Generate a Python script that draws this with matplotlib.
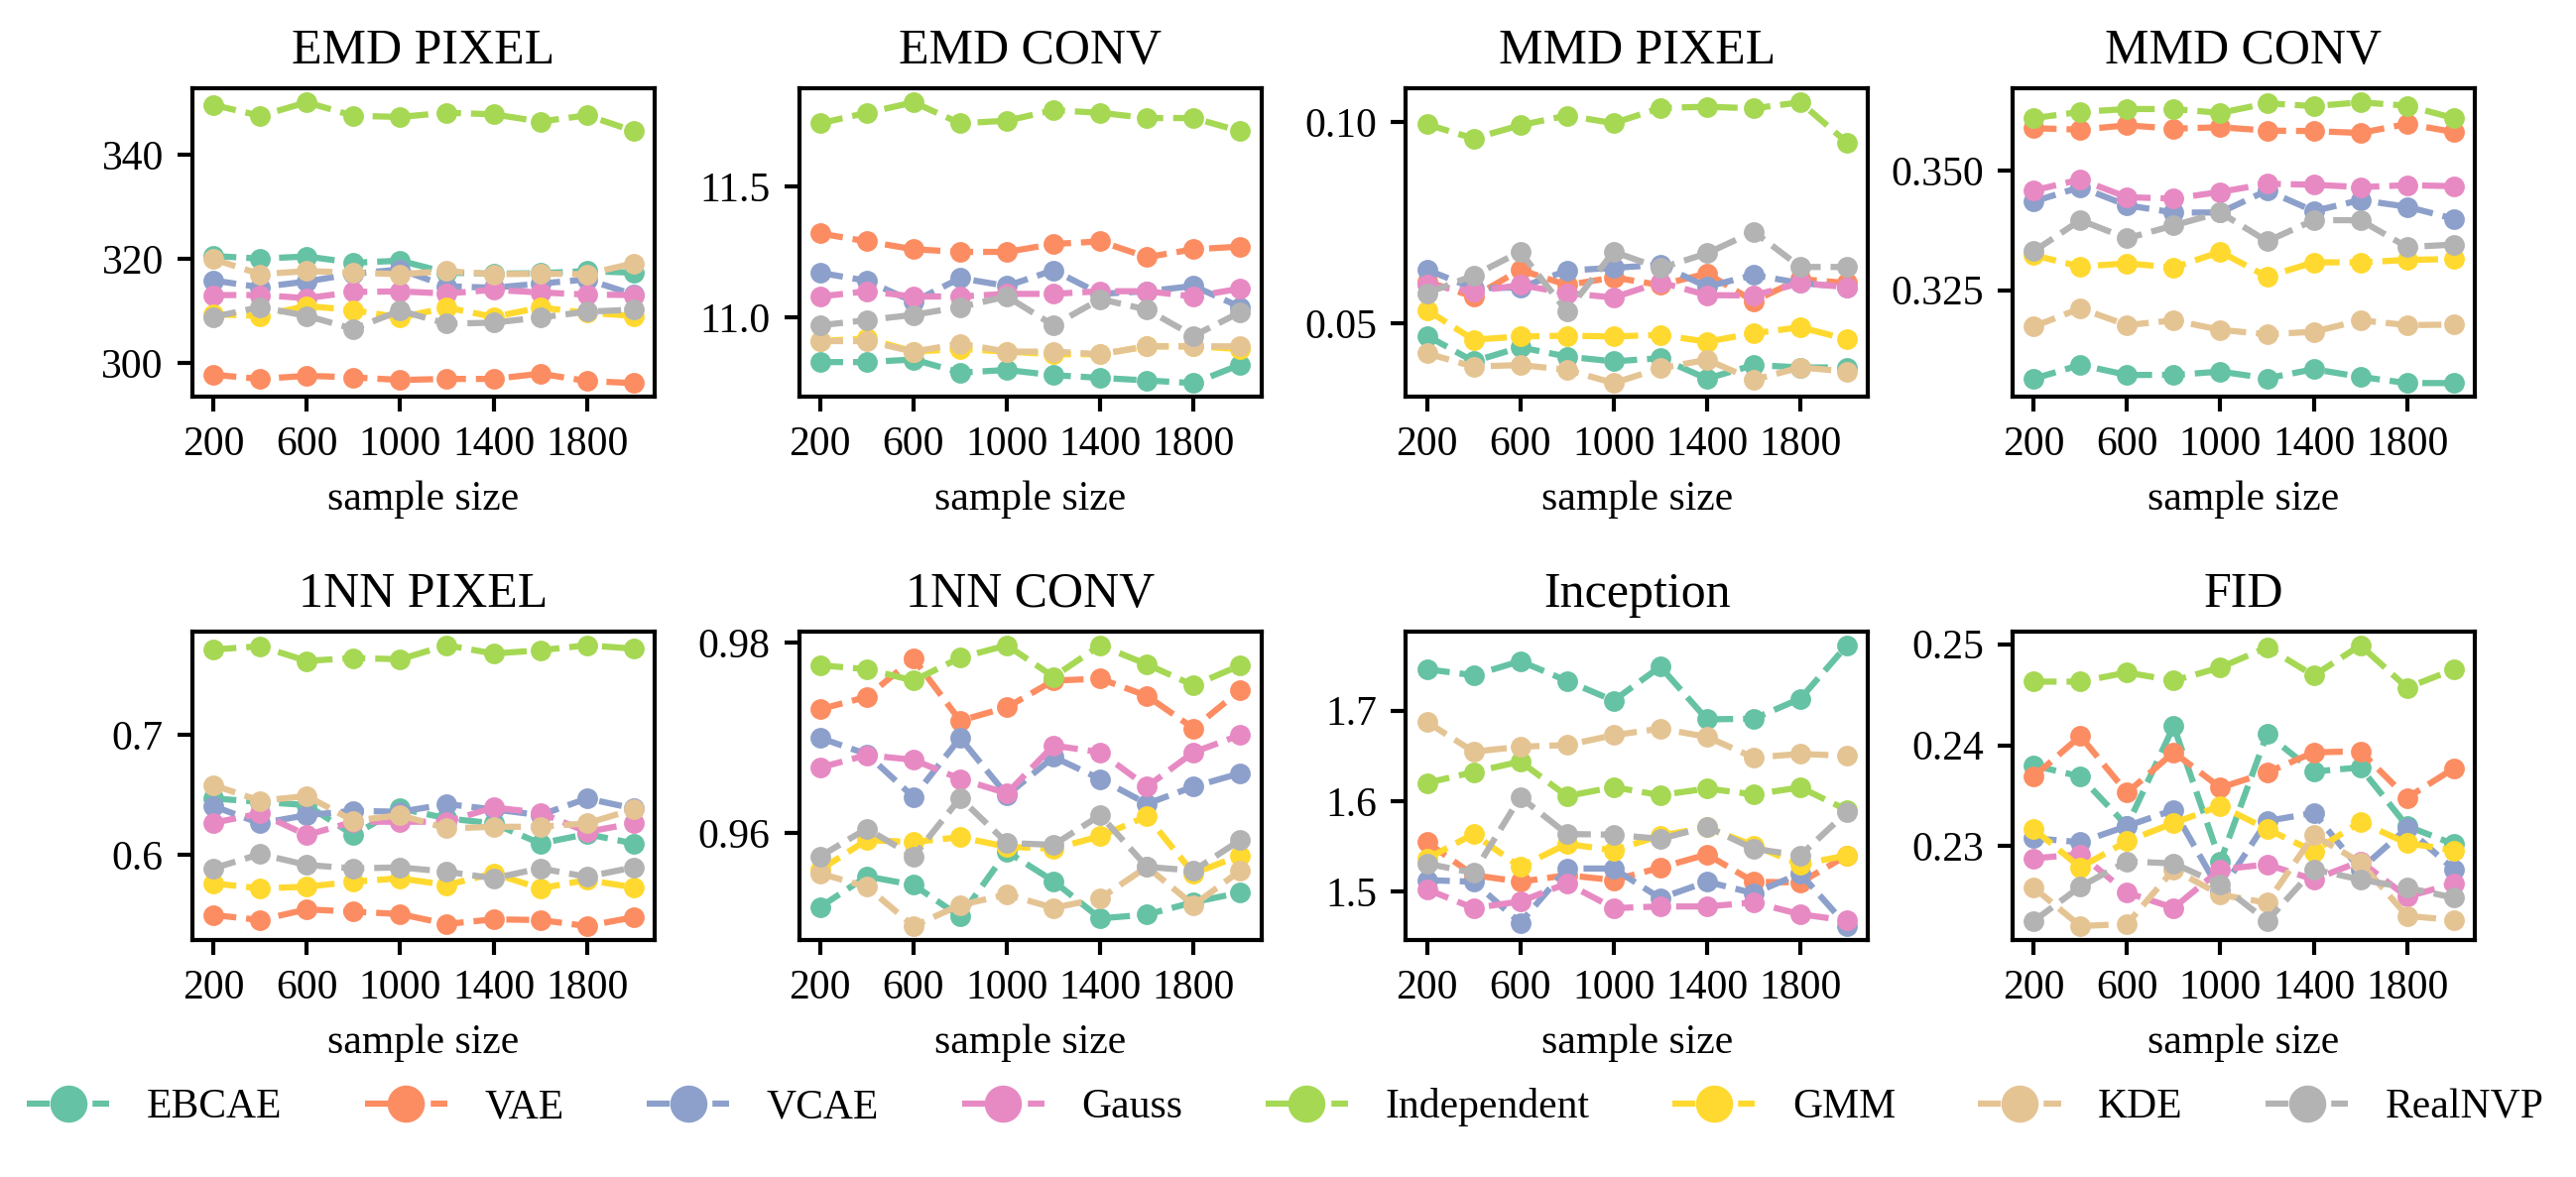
import numpy as np
import matplotlib
matplotlib.use("Agg")
import matplotlib.pyplot as plt

plt.rcParams['font.family'] = 'serif'
plt.rcParams['font.serif'] = ['Liberation Serif', 'DejaVu Serif']
plt.rcParams['font.size'] = 10

# sample sizes
sizes = [200, 400, 600, 800, 1000, 1200, 1400, 1600, 1800, 2000]
xticks = [200, 600, 1000, 1400, 1800]

models = ['EBCAE', 'VAE', 'VCAE', 'Gauss', 'Independent', 'GMM', 'KDE', 'RealNVP']
colors = ['#66c2a5', '#fc8d62', '#8da0cb', '#e78ac3', '#a6d854', '#ffd92f', '#e5c494', '#b3b3b3']

titles = ['EMD PIXEL', 'EMD CONV', 'MMD PIXEL', 'MMD CONV',
          '1NN PIXEL', '1NN CONV', 'Inception', 'FID']
yticks = [[300, 320, 340], [11.0, 11.5], [0.05, 0.10], [0.325, 0.350],
          [0.6, 0.7], [0.96, 0.98], [1.5, 1.6, 1.7], [0.23, 0.24, 0.25]]
yfmt = ['%d', '%.1f', '%.2f', '%.3f', '%.1f', '%.2f', '%.1f', '%.2f']

# values, one list per model in order of `models`
emd_pixel = [
    [320.6, 320.1, 320.5, 319.3, 319.7, 317.4, 317.2, 317.3, 317.7, 317.4],
    [297.8, 297.0, 297.6, 297.3, 296.8, 297.0, 297.0, 298.0, 296.6, 296.2],
    [315.9, 314.6, 315.7, 317.2, 318.0, 314.8, 314.5, 315.3, 316.1, 313.2],
    [313.1, 313.1, 312.5, 313.7, 313.8, 313.4, 314.1, 313.6, 313.2, 313.1],
    [349.6, 347.5, 350.1, 347.5, 347.3, 348.1, 347.8, 346.4, 347.6, 344.6],
    [309.4, 309.1, 311.0, 310.2, 308.8, 310.7, 308.9, 310.7, 309.7, 309.1],
    [320.0, 317.1, 317.7, 317.4, 317.1, 317.7, 317.1, 317.2, 317.1, 319.2],
    [308.9, 310.8, 309.1, 306.6, 310.1, 307.6, 307.8, 308.8, 309.9, 310.3],
]
emd_conv = [
    [10.83, 10.83, 10.84, 10.79, 10.80, 10.78, 10.77, 10.76, 10.75, 10.82],
    [11.32, 11.29, 11.26, 11.25, 11.25, 11.28, 11.29, 11.23, 11.26, 11.27],
    [11.17, 11.14, 11.06, 11.15, 11.12, 11.18, 11.09, 11.10, 11.12, 11.04],
    [11.08, 11.10, 11.08, 11.08, 11.09, 11.09, 11.10, 11.10, 11.08, 11.11],
    [11.74, 11.78, 11.82, 11.74, 11.75, 11.79, 11.78, 11.76, 11.76, 11.71],
    [10.91, 10.92, 10.87, 10.88, 10.87, 10.86, 10.86, 10.89, 10.89, 10.88],
    [10.91, 10.91, 10.87, 10.90, 10.87, 10.87, 10.86, 10.89, 10.89, 10.89],
    [10.97, 10.99, 11.01, 11.04, 11.08, 10.97, 11.07, 11.03, 10.93, 11.02],
]
mmd_pixel = [
    [0.0469, 0.0405, 0.0440, 0.0417, 0.0405, 0.0413, 0.0362, 0.0396, 0.0390, 0.0390],
    [0.0604, 0.0566, 0.0633, 0.0595, 0.0614, 0.0595, 0.0624, 0.0555, 0.0610, 0.0600],
    [0.0633, 0.0587, 0.0589, 0.0631, 0.0638, 0.0645, 0.0591, 0.0620, 0.0600, 0.0590],
    [0.0595, 0.0579, 0.0595, 0.0575, 0.0564, 0.0602, 0.0570, 0.0569, 0.0600, 0.0590],
    [0.0995, 0.0960, 0.0993, 0.1017, 0.0998, 0.1036, 0.1039, 0.1035, 0.1050, 0.0950],
    [0.0533, 0.0459, 0.0467, 0.0469, 0.0467, 0.0471, 0.0454, 0.0475, 0.0490, 0.0460],
    [0.0425, 0.0392, 0.0396, 0.0384, 0.0351, 0.0388, 0.0409, 0.0359, 0.0390, 0.0380],
    [0.0575, 0.0619, 0.0678, 0.0529, 0.0678, 0.0637, 0.0674, 0.0728, 0.0640, 0.0640],
]
mmd_conv = [
    [0.3065, 0.3094, 0.3073, 0.3073, 0.3080, 0.3066, 0.3085, 0.3069, 0.3056, 0.3056],
    [0.3588, 0.3585, 0.3594, 0.3587, 0.3590, 0.3583, 0.3582, 0.3578, 0.3597, 0.3580],
    [0.3435, 0.3465, 0.3427, 0.3412, 0.3412, 0.3458, 0.3415, 0.3438, 0.3424, 0.3399],
    [0.3458, 0.3481, 0.3444, 0.3441, 0.3455, 0.3472, 0.3470, 0.3465, 0.3469, 0.3467],
    [0.3609, 0.3622, 0.3628, 0.3628, 0.3620, 0.3640, 0.3634, 0.3642, 0.3635, 0.3609],
    [0.3323, 0.3299, 0.3306, 0.3297, 0.3330, 0.3278, 0.3308, 0.3308, 0.3313, 0.3315],
    [0.3174, 0.3212, 0.3177, 0.3187, 0.3167, 0.3158, 0.3163, 0.3187, 0.3177, 0.3178],
    [0.3331, 0.3396, 0.3358, 0.3385, 0.3412, 0.3352, 0.3396, 0.3396, 0.3340, 0.3345],
]
nn_pixel = [
    [0.6472, 0.6444, 0.6417, 0.6167, 0.6389, 0.6306, 0.6264, 0.6097, 0.6175, 0.6097],
    [0.5500, 0.5458, 0.5547, 0.5528, 0.5508, 0.5425, 0.5464, 0.5458, 0.5408, 0.5481],
    [0.6408, 0.6264, 0.6333, 0.6369, 0.6361, 0.6425, 0.6381, 0.6333, 0.6472, 0.6389],
    [0.6269, 0.6347, 0.6167, 0.6278, 0.6278, 0.6278, 0.6397, 0.6353, 0.6194, 0.6264],
    [0.7714, 0.7742, 0.7619, 0.7644, 0.7633, 0.7750, 0.7681, 0.7708, 0.7750, 0.7722],
    [0.5764, 0.5722, 0.5736, 0.5778, 0.5806, 0.5750, 0.5847, 0.5722, 0.5792, 0.5731],
    [0.6583, 0.6453, 0.6492, 0.6286, 0.6333, 0.6222, 0.6236, 0.6236, 0.6264, 0.6381],
    [0.5889, 0.6008, 0.5917, 0.5889, 0.5897, 0.5861, 0.5806, 0.5889, 0.5819, 0.5897],
]
nn_conv = [
    [0.9523, 0.9555, 0.9546, 0.9513, 0.9581, 0.9550, 0.9511, 0.9515, 0.9528, 0.9538],
    [0.9730, 0.9743, 0.9783, 0.9718, 0.9732, 0.9760, 0.9762, 0.9744, 0.9710, 0.9750],
    [0.9700, 0.9683, 0.9638, 0.9700, 0.9640, 0.9680, 0.9657, 0.9631, 0.9649, 0.9663],
    [0.9669, 0.9682, 0.9677, 0.9657, 0.9642, 0.9692, 0.9685, 0.9649, 0.9685, 0.9703],
    [0.9776, 0.9772, 0.9760, 0.9784, 0.9797, 0.9764, 0.9797, 0.9777, 0.9755, 0.9776],
    [0.9562, 0.9593, 0.9591, 0.9596, 0.9586, 0.9584, 0.9597, 0.9618, 0.9558, 0.9577],
    [0.9558, 0.9544, 0.9503, 0.9525, 0.9536, 0.9522, 0.9532, 0.9565, 0.9525, 0.9561],
    [0.9576, 0.9605, 0.9576, 0.9637, 0.9590, 0.9588, 0.9619, 0.9565, 0.9561, 0.9593],
]
inception = [
    [1.7455, 1.7389, 1.7545, 1.7327, 1.7109, 1.7484, 1.6902, 1.6909, 1.7130, 1.7720],
    [1.5545, 1.5182, 1.5109, 1.5182, 1.5127, 1.5265, 1.5411, 1.5109, 1.5100, 1.5400],
    [1.5127, 1.5109, 1.4655, 1.5255, 1.5255, 1.4927, 1.5109, 1.4982, 1.5200, 1.4620],
    [1.5025, 1.4818, 1.4891, 1.5091, 1.4818, 1.4836, 1.4836, 1.4880, 1.4750, 1.4680],
    [1.6200, 1.6320, 1.6436, 1.6055, 1.6153, 1.6065, 1.6138, 1.6073, 1.6150, 1.5900],
    [1.5364, 1.5636, 1.5273, 1.5527, 1.5455, 1.5618, 1.5709, 1.5509, 1.5300, 1.5400],
    [1.6873, 1.6545, 1.6600, 1.6618, 1.6727, 1.6800, 1.6709, 1.6480, 1.6520, 1.6500],
    [1.5309, 1.5207, 1.6044, 1.5636, 1.5629, 1.5582, 1.5716, 1.5473, 1.5400, 1.5880],
]
fid = [
    [0.2380, 0.2369, 0.2320, 0.2419, 0.2285, 0.2411, 0.2374, 0.2378, 0.2320, 0.2302],
    [0.2369, 0.2409, 0.2353, 0.2393, 0.2358, 0.2373, 0.2393, 0.2394, 0.2348, 0.2377],
    [0.2308, 0.2304, 0.2320, 0.2336, 0.2255, 0.2325, 0.2333, 0.2277, 0.2318, 0.2277],
    [0.2288, 0.2292, 0.2254, 0.2239, 0.2277, 0.2282, 0.2267, 0.2285, 0.2250, 0.2263],
    [0.2463, 0.2463, 0.2472, 0.2464, 0.2477, 0.2497, 0.2469, 0.2499, 0.2457, 0.2475],
    [0.2317, 0.2279, 0.2305, 0.2323, 0.2340, 0.2317, 0.2295, 0.2324, 0.2303, 0.2296],
    [0.2259, 0.2221, 0.2223, 0.2277, 0.2252, 0.2244, 0.2311, 0.2284, 0.2231, 0.2227],
    [0.2226, 0.2260, 0.2285, 0.2283, 0.2262, 0.2226, 0.2277, 0.2267, 0.2259, 0.2249],
]
metrics = [emd_pixel, emd_conv, mmd_pixel, mmd_conv, nn_pixel, nn_conv, inception, fid]

fig, axes = plt.subplots(2, 4, figsize=(2597 / 300, 1187 / 300), dpi=300)
fig.subplots_adjust(left=0.0747, right=0.9607, bottom=0.2013, top=0.925,
                    wspace=0.313, hspace=0.758)

for i, ax in enumerate(axes.flat):
    for j, name in enumerate(models):
        ax.plot(sizes, metrics[i][j], '--o', color=colors[j], label=name,
                lw=1.5, ms=4)
    ax.set_title(titles[i], fontsize=12)
    ax.set_xlabel('sample size', fontsize=10)
    ax.set_xticks(xticks)
    ax.set_yticks(yticks[i])
    ax.set_yticklabels([yfmt[i] % v for v in yticks[i]])
    ax.tick_params(labelsize=10, width=1.0)
    for s in ax.spines.values():
        s.set_linewidth(1.0)

handles, labels = axes[0, 0].get_legend_handles_labels()
fig.legend(handles, labels, loc='center', bbox_to_anchor=(0.499, 0.059),
           ncol=8, frameon=False, markerscale=2, fontsize=10,
           handlelength=2.0, handletextpad=0.9, columnspacing=2.0)

fig.savefig('out.png', dpi=300)
